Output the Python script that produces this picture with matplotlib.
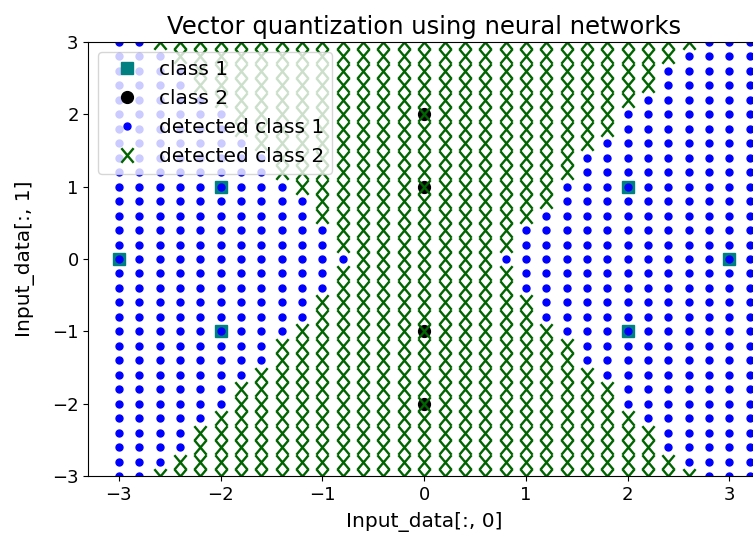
import matplotlib
matplotlib.use("Agg")
import matplotlib.pyplot as plt
from matplotlib.path import Path

plt.rcParams['font.size'] = 14.5

# training samples
class1_x = [-3, -2, -2, 2, 2, 3]
class1_y = [0, 1, -1, 1, -1, 0]
class2_x = [0, 0, 0, 0]
class2_y = [2, 1, -1, -2]

# test grid
grid_x = [-3.0, -2.8, -2.6, -2.4, -2.2, -2.0, -1.8, -1.6, -1.4, -1.2, -1.0,
          -0.8, -0.6, -0.4, -0.2, 0.0, 0.2, 0.4, 0.6, 0.8, 1.0,
          1.2, 1.4, 1.6, 1.8, 2.0, 2.2, 2.4, 2.6, 2.8, 3.0, 3.2]
grid_y = [-3.0, -2.8, -2.6, -2.4, -2.2, -2.0, -1.8, -1.6, -1.4, -1.2, -1.0,
          -0.8, -0.6, -0.4, -0.2, 0.0, 0.2, 0.4, 0.6, 0.8, 1.0,
          1.2, 1.4, 1.6, 1.8, 2.0, 2.2, 2.4, 2.6, 2.8, 3.0]

# per grid column: class 2 detected for y >= upper_from and for y <= lower_to
# (None = nothing detected as class 2 on that side)
upper_from = [None, None, 3.0, 2.8, 2.4, 2.2, 1.8, 1.6, 1.2, 1.0, 0.6,
              0.2, -3.0, -3.0, -3.0, -3.0, -3.0, -3.0, -3.0, 0.2, 0.6,
              0.8, 1.2, 1.6, 1.8, 2.2, 2.4, 2.8, 3.0, None, None, None]
lower_to = [None, None, -3.0, -2.8, -2.4, -2.2, -1.8, -1.6, -1.2, -1.0, -0.6,
            -0.2, None, None, None, None, None, None, None, -0.2, -0.6,
            -1.0, -1.2, -1.6, -1.8, -2.2, -2.4, -2.8, -3.0, None, None, None]

grid1_x, grid1_y, grid2_x, grid2_y = [], [], [], []
for gx, up, lo in zip(grid_x, upper_from, lower_to):
    for gy in grid_y:
        is2 = (up is not None and gy >= up - 1e-9) or (lo is not None and gy <= lo + 1e-9)
        if is2:
            grid2_x.append(gx)
            grid2_y.append(gy)
        else:
            grid1_x.append(gx)
            grid1_y.append(gy)

# x marks slightly taller than wide, stacking into chains
tall_x = Path([(-0.42, -0.5), (0.42, 0.5), (-0.42, 0.5), (0.42, -0.5)],
              [Path.MOVETO, Path.LINETO, Path.MOVETO, Path.LINETO])

fig = plt.figure(figsize=(7.53, 5.49), dpi=100)
ax = fig.add_axes([88.4 / 753, 73 / 549, (760 - 88.4) / 753, 434 / 549])

ax.plot(class1_x, class1_y, 's', color='teal', markersize=8.5, label='class 1')
ax.plot(class2_x, class2_y, 'ko', markersize=8.5, label='class 2')
ax.plot(grid1_x, grid1_y, 'o', color='blue', markersize=5, label='detected class 1')
ax.plot(grid2_x, grid2_y, linestyle='none', marker=tall_x, color='darkgreen',
        markersize=10.5, markeredgewidth=1.7, label='detected class 2')

ax.set_xlim(-3.3, 3.3)
ax.set_ylim(-3, 3)
ax.set_xticks([-3, -2, -1, 0, 1, 2, 3])
ax.set_yticks([-3, -2, -1, 0, 1, 2, 3])
ax.tick_params(labelsize=13)
ax.set_title('Vector quantization using neural networks', fontsize=17.5)
ax.set_xlabel('Input_data[:, 0]', labelpad=6)
ax.set_ylabel('Input_data[:, 1]', labelpad=12)
ax.legend(loc='upper left', fontsize=14.5, handletextpad=0.6, borderaxespad=0.5)

fig.savefig('out.png', dpi=100)
